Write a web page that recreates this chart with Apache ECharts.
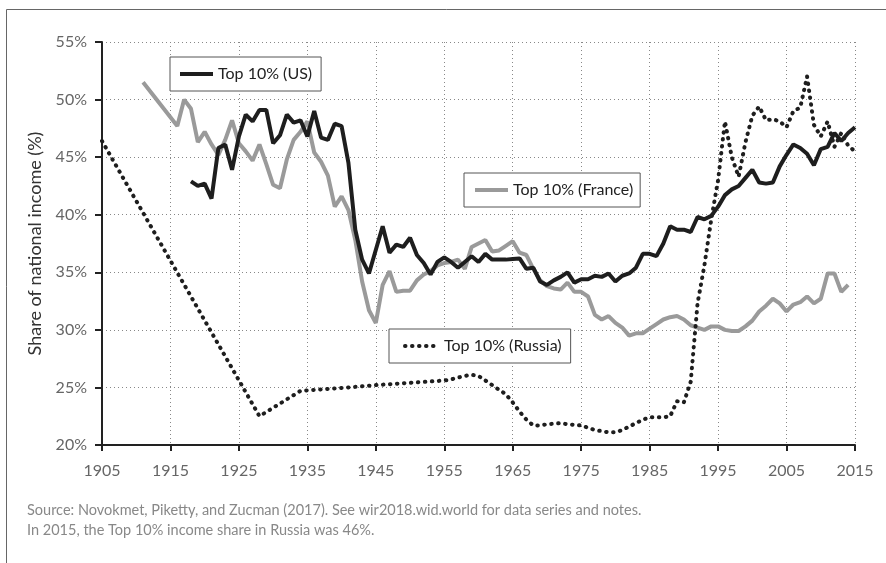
<!DOCTYPE html>
<html><head><meta charset="utf-8">
<script src="https://cdn.jsdelivr.net/npm/echarts@6/dist/echarts.min.js"></script>
<style>html,body{margin:0;padding:0;background:#fff}#c{width:886px;height:563px}</style>
</head><body><div id="c"></div>
<script>
// ---- Data ----
const usYears = [1918,1919,1920,1921,1922,1923,1924,1925,1926,1927,1928,1929,1930,1931,1932,1933,1934,1935,1936,1937,1938,1939,1940,1941,1942,1943,1944,1946,1947,1948,1949,1950,1951,1952,1953,1954,1955,1956,1957,1958,1959,1960,1961,1962,1963,1964,1965,1966,1967,1968,1969,1970,1971,1972,1973,1974,1975,1976,1977,1978,1979,1980,1981,1982,1983,1984,1985,1986,1987,1988,1989,1990,1991,1992,1993,1994,1995,1996,1997,1998,1999,2000,2001,2002,2003,2004,2005,2006,2007,2008,2009,2010,2011,2012,2013,2014,2015];
const usValues = [42.9,42.5,42.7,41.4,45.8,46.1,43.9,46.8,48.7,48.1,49.1,49.1,46.2,46.9,48.7,48.0,48.2,46.8,49.0,46.7,46.5,47.9,47.7,44.5,38.7,36.1,34.9,39.0,36.7,37.4,37.2,38.0,36.5,35.8,34.8,35.9,36.3,35.9,35.4,35.9,36.4,35.9,36.6,36.1,36.1,36.1,36.15,36.2,35.3,35.4,34.2,33.9,34.3,34.6,35.0,34.1,34.4,34.4,34.7,34.6,34.9,34.2,34.7,34.9,35.4,36.6,36.6,36.4,37.5,39.0,38.7,38.7,38.5,39.8,39.6,39.9,40.7,41.7,42.2,42.5,43.2,43.9,42.8,42.7,42.8,44.2,45.2,46.1,45.8,45.3,44.3,45.7,45.9,47.1,46.4,47.1,47.6];

const frYears = [1911,1916,1917,1918,1919,1920,1921,1922,1923,1924,1925,1926,1927,1928,1929,1930,1931,1932,1933,1934,1935,1936,1937,1938,1939,1940,1941,1942,1943,1944,1945,1946,1947,1948,1949,1950,1951,1952,1953,1954,1955,1956,1957,1958,1959,1960,1961,1962,1963,1964,1965,1966,1967,1968,1969,1970,1971,1972,1973,1974,1975,1976,1977,1978,1979,1980,1981,1982,1983,1984,1985,1986,1987,1988,1989,1990,1991,1992,1993,1994,1995,1996,1997,1998,1999,2000,2001,2002,2003,2004,2005,2006,2007,2008,2009,2010,2011,2012,2013,2014];
const frValues = [51.5,47.7,50.0,49.2,46.3,47.2,46.1,45.2,46.5,48.2,46.2,45.5,44.7,46.1,44.4,42.6,42.3,44.8,46.5,47.2,48.1,45.4,44.6,43.4,40.7,41.6,40.4,37.8,34.2,31.7,30.6,33.9,35.1,33.3,33.4,33.4,34.3,34.8,35.1,35.6,35.8,35.9,36.1,35.3,37.2,37.5,37.8,36.8,36.9,37.3,37.7,36.7,36.5,35.3,34.3,33.8,33.6,33.5,34.1,33.3,33.3,32.9,31.3,30.9,31.2,30.6,30.2,29.5,29.7,29.7,30.1,30.5,30.9,31.1,31.2,30.9,30.4,30.2,30.0,30.3,30.3,30.0,29.9,29.9,30.3,30.8,31.6,32.1,32.7,32.3,31.6,32.2,32.4,32.9,32.3,32.7,34.9,34.9,33.3,33.9];

const ruYears = [1905,1928,1934,1941,1945,1950,1955,1956,1957,1958,1959,1960,1961,1962,1963,1964,1965,1966,1967,1968,1969,1970,1971,1972,1973,1974,1975,1976,1977,1978,1979,1980,1981,1982,1983,1984,1985,1986,1987,1988,1989,1990,1991,1992,1993,1994,1995,1996,1997,1998,1999,2000,2001,2002,2003,2004,2005,2006,2007,2008,2009,2010,2011,2012,2013,2014,2015];
const ruValues = [46.4,22.5,24.7,25.0,25.2,25.4,25.6,25.7,25.85,26.0,26.1,26.0,25.6,25.2,24.8,24.4,23.7,22.9,22.2,21.7,21.7,21.8,21.85,21.9,21.8,21.75,21.7,21.5,21.3,21.2,21.1,21.1,21.3,21.6,21.9,22.2,22.4,22.4,22.4,22.5,23.8,23.7,25.5,32.3,35.6,39.6,43.0,48.1,45.0,43.3,46.3,48.6,49.4,48.2,48.3,48.1,47.6,49.0,49.3,52.0,47.8,46.8,48.1,45.9,47.1,46.0,45.5];

const seriesNames = ['Top 10% (US)', 'Top 10% (France)', 'Top 10% (Russia)'];
const yAxisTitle = 'Share of national income (%)';
const sourceLines = [
  'Source: Novokmet, Piketty, and Zucman (2017). See wir2018.wid.world for data series and notes.',
  'In 2015, the Top 10% income share in Russia was 46%.'
];

// ---- Chart ----
const pair = (xs, ys) => xs.map((x, i) => [x, ys[i]]);
const FONT = 'Lato';
const DOTS = [0.5, 6.5];
const chart = echarts.init(document.getElementById('c'), null, {renderer: 'canvas'});
const legendBase = {
  orient: 'horizontal', selectedMode: false,
  backgroundColor: '#fff', borderColor: '#555', borderWidth: 1, borderRadius: 0,
  itemWidth: 33, itemHeight: 14,
  itemStyle: {opacity: 0},
  lineStyle: {width: 4},
  textStyle: {fontFamily: FONT, fontSize: 16, color: '#222'}
};
chart.setOption({
  animation: false,
  backgroundColor: '#fff',
  grid: {left: 102, right: 31, top: 42, bottom: 118, containLabel: false},
  xAxis: {
    type: 'value', min: 1905, max: 2015, interval: 10,
    axisLine: {show: true, lineStyle: {color: '#222', width: 2}},
    axisTick: {show: true, length: 6, lineStyle: {color: '#222', width: 2}},
    axisLabel: {fontFamily: FONT, fontSize: 16, color: '#666', margin: 18, formatter: v => String(v)},
    splitLine: {show: true, lineStyle: {color: '#888', width: 1, type: [1, 3]}}
  },
  yAxis: {
    type: 'value', min: 20, max: 55, interval: 5,
    name: yAxisTitle, nameLocation: 'middle', nameGap: 58,
    nameTextStyle: {fontFamily: FONT, fontSize: 18, color: '#333'},
    axisLine: {show: true, lineStyle: {color: '#222', width: 2}},
    axisTick: {show: true, length: 7, lineStyle: {color: '#222', width: 2}},
    axisLabel: {fontFamily: FONT, fontSize: 16, color: '#666', margin: 15, formatter: '{value}%'},
    splitLine: {show: true, lineStyle: {color: '#888', width: 1, type: [1, 3]}}
  },
  legend: [
    Object.assign({}, legendBase, {data: [seriesNames[0]], left: 170, top: 57, padding: [9, 9, 9, 8]}),
    Object.assign({}, legendBase, {data: [seriesNames[1]], left: 464, top: 173, padding: [9, 7, 9, 9]}),
    Object.assign({}, legendBase, {data: [seriesNames[2]], left: 389, top: 329, padding: [9, 9, 9, 14], itemWidth: 34,
      lineStyle: {width: 4, type: DOTS, cap: 'round'}})
  ],
  series: [
    {name: seriesNames[1], type: 'line', data: pair(frYears, frValues), symbol: 'none', z: 2,
     lineStyle: {color: '#9a9a9a', width: 4}, itemStyle: {color: '#9a9a9a'}},
    {name: seriesNames[0], type: 'line', data: pair(usYears, usValues), symbol: 'none', z: 3,
     lineStyle: {color: '#1e1e1e', width: 4}, itemStyle: {color: '#1e1e1e'}},
    {name: seriesNames[2], type: 'line', data: pair(ruYears, ruValues), symbol: 'none', z: 4,
     lineStyle: {color: '#1e1e1e', width: 4, type: DOTS, cap: 'round'}, itemStyle: {color: '#1e1e1e'}}
  ],
  graphic: [
    {type: 'line', shape: {x1: 6.5, y1: 9.5, x2: 886, y2: 9.5}, style: {stroke: '#666', lineWidth: 1}, silent: true},
    {type: 'line', shape: {x1: 6.5, y1: 9.5, x2: 6.5, y2: 563}, style: {stroke: '#666', lineWidth: 1}, silent: true},
    {type: 'text', left: 27, top: 503, style: {text: sourceLines[0], font: '14.5px Lato', fill: '#888'}, silent: true},
    {type: 'text', left: 27, top: 523, style: {text: sourceLines[1], font: '14.5px Lato', fill: '#888'}, silent: true}
  ]
});
</script>
</body></html>
